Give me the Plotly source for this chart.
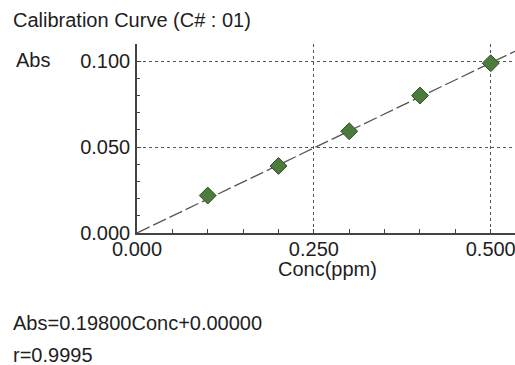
import plotly.graph_objects as go

conc = [0.1, 0.2, 0.3, 0.4, 0.5]
absorb = [0.0218, 0.0390, 0.0592, 0.0800, 0.0988]
slope = 0.19800
intercept = 0.00000
line_x = [0.0, 0.5343]
line_y = [slope * v + intercept for v in line_x]
x_ticks = [0.0, 0.25, 0.5]
x_tick_text = ["0.000", "0.250", "0.500"]
y_ticks = [0.0, 0.05, 0.1]
y_tick_text = ["0.000", "0.050", "0.100"]

FONT = "Liberation Sans, Arial, sans-serif"
INK = "#1e1e1e"
L, T, W, H = 137, 44, 378, 189
FS = 20


def px(xp):
    return (xp - L) / W


def py(yp):
    return (T + H - yp) / H


fig = go.Figure()
fig.add_trace(go.Scatter(x=line_x, y=line_y, mode="lines",
                         line=dict(color="#555555", width=1.3, dash="14px,4px"),
                         hoverinfo="skip", showlegend=False))
fig.add_trace(go.Scatter(x=conc, y=absorb, mode="markers",
                         marker=dict(symbol="diamond", size=13, color="#4c7c3c",
                                     line=dict(color="#2f4f2a", width=1)),
                         showlegend=False, cliponaxis=False))

fig.update_layout(
    width=515, height=365,
    margin=dict(l=L, r=515 - L - W, t=T, b=365 - T - H, autoexpand=False),
    paper_bgcolor="white", plot_bgcolor="white",
    font=dict(family=FONT, color=INK, size=FS),
    xaxis=dict(range=[0, 0.5343], tickvals=x_ticks, ticktext=x_tick_text,
               automargin=False, ticklabeloverflow="allow",
               showgrid=True, gridcolor="#555555", griddash="dot", gridwidth=1,
               zeroline=False, showline=True, linecolor="#444444", linewidth=1.5,
               ticks="inside", ticklen=4, tickcolor="#444444",
               tickfont=dict(size=FS, color=INK), ticklabelstandoff=-3,
               minor=dict(dtick=0.05, tick0=0, ticks="inside", ticklen=4,
                          tickcolor="#444444", showgrid=False)),
    yaxis=dict(range=[0, 0.11], tickvals=y_ticks, ticktext=y_tick_text,
               automargin=False, ticklabeloverflow="allow",
               showgrid=True, gridcolor="#555555", griddash="dot", gridwidth=1,
               zeroline=False, showline=True, linecolor="#444444", linewidth=1.5,
               ticks="inside", ticklen=4, tickcolor="#444444",
               tickfont=dict(size=FS, color=INK), ticklabelstandoff=1,
               minor=dict(dtick=0.01, tick0=0, ticks="inside", ticklen=3,
                          tickcolor="#444444", showgrid=False)),
    annotations=[
        dict(text="Calibration Curve (C# : 01)", xref="paper", yref="paper",
             x=px(11), y=py(20), xanchor="left", yanchor="middle",
             showarrow=False, font=dict(size=FS, color=INK)),
        dict(text="Abs", xref="paper", yref="paper",
             x=px(14), y=py(60), xanchor="left", yanchor="middle",
             showarrow=False, font=dict(size=FS, color=INK)),
        dict(text="Conc(ppm)", xref="paper", yref="paper",
             x=px(327), y=py(269), xanchor="center", yanchor="middle",
             showarrow=False, font=dict(size=FS, color=INK)),
        dict(text="Abs=0.19800Conc+0.00000", xref="paper", yref="paper",
             x=px(11), y=py(323), xanchor="left", yanchor="middle",
             showarrow=False, font=dict(size=FS, color=INK)),
        dict(text="r=0.9995", xref="paper", yref="paper",
             x=px(11), y=py(355), xanchor="left", yanchor="middle",
             showarrow=False, font=dict(size=FS, color=INK)),
    ],
)

fig.write_html("out.html", config={"displayModeBar": False},
               post_script="document.body.style.margin='0';document.body.style.overflow='hidden';")
